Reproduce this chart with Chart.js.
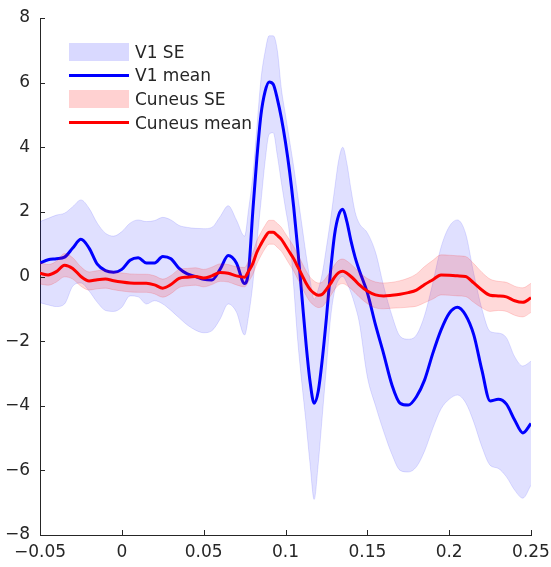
<!DOCTYPE html>
<html>
<head>
<meta charset="utf-8">
<title>V1 vs Cuneus</title>
<script src="https://cdn.jsdelivr.net/npm/chart.js@4.4.1/dist/chart.umd.min.js"></script>
<style>
  html, body { margin: 0; padding: 0; background: #fff; }
  #wrap { position: relative; width: 551px; height: 567px; }
  #legend {
    position: absolute; left: 69px; top: 40px;
    font-family: "DejaVu Sans", sans-serif; font-size: 17px; color: #262626;
  }
  .item { display: flex; align-items: center; height: 23.6px; }
  .key { width: 60px; margin-right: 6px; }
  .patch { height: 18px; }
  .line { height: 3px; }
</style>
</head>
<body>
<div id="wrap">
  <canvas id="chart" width="551" height="567"></canvas>
  <div id="legend"></div>
</div>
<script>
// time axis (s) - finer steps around the big response
const times = [
  -0.05, -0.045, -0.04, -0.035, -0.03, -0.025, -0.02, -0.015, -0.01, -0.005, 0, 0.005, 0.01, 0.015, 0.02, 0.025, 0.03, 0.035, 0.04, 0.045, 0.05, 0.055, 0.06, 0.065, 0.07, 0.075,
  0.0775, 0.08, 0.0825, 0.085, 0.0875, 0.09, 0.0925, 0.095, 0.0975, 0.1, 0.1025, 0.105, 0.1075, 0.11, 0.1125, 0.115, 0.1175, 0.12, 0.1225, 0.125, 0.1275, 0.13, 0.1325, 0.135, 0.1375, 0.14, 0.1425, 0.145,
  0.15, 0.155, 0.16, 0.165, 0.17, 0.175, 0.18, 0.185, 0.19, 0.195, 0.2, 0.205, 0.21, 0.215, 0.22, 0.225, 0.23, 0.235, 0.24, 0.245, 0.25
];

const v1Mean = [
  0.42, 0.52, 0.55, 0.6, 0.88, 1.15, 0.88, 0.38, 0.18, 0.13, 0.22, 0.5, 0.58, 0.42, 0.42, 0.62, 0.55, 0.25, 0.08, 0.0, -0.09, -0.11, 0.22, 0.65, 0.42, -0.22,
  0.2, 2.0, 3.66, 5.0, 5.72, 6.02, 5.95, 5.5, 4.9, 4.15, 3.25, 2.15, 0.85, -0.6, -2.05, -3.25, -3.92, -3.55, -2.55, -1.28, 0.15, 1.3, 1.9, 2.08, 1.7, 1.1, 0.6, 0.2,
  -0.5, -1.5, -2.4, -3.35, -3.92, -3.98, -3.72, -3.2, -2.38, -1.66, -1.14, -0.95, -1.19, -1.8, -2.9, -3.85, -3.8, -3.95, -4.44, -4.84, -4.55
];
const v1Upper = [
  1.7, 1.8, 1.9, 1.96, 2.16, 2.37, 2.11, 1.65, 1.34, 1.25, 1.39, 1.65, 1.75, 1.7, 1.73, 1.83, 1.75, 1.58, 1.52, 1.49, 1.48, 1.52, 1.85, 2.19, 1.75, 1.25,
  2.1, 3.1, 4.6, 6.1, 6.95, 7.45, 7.45, 7.0, 5.8, 5.0, 4.2, 3.4, 2.5, 1.6, 0.7, -0.1, -0.7, -0.4, 0.1, 0.9, 1.75, 2.7, 3.6, 4.0, 3.5, 2.7, 2.0, 1.65,
  1.35, 0.75, -0.3, -1.2, -1.85, -1.94, -1.81, -1.2, -0.2, 0.9, 1.54, 1.75, 1.34, 0.1, -1.0, -1.7, -1.75, -1.9, -2.48, -2.77, -2.62
];
const v1Lower = [
  -0.81, -0.88, -0.93, -0.85, -0.3, -0.2, -0.45, -0.8, -1.05, -1.08, -0.95, -0.6, -0.63, -0.85, -0.75, -0.85, -1.05, -1.28, -1.5, -1.66, -1.74, -1.68, -1.32, -0.85, -1.1, -1.81,
  -1.2, -0.25, 1.05, 2.3, 3.55, 4.4, 4.45, 3.75, 2.9, 2.1, 1.3, -0.3, -2.0, -3.3, -4.5, -5.8, -6.9, -5.8, -4.3, -2.8, -1.3, -0.45, -0.1, 0.0, -0.2, -0.5, -0.9, -1.4,
  -3.1, -4.0, -4.8, -5.5, -6.0, -6.05, -5.89, -5.4, -4.7, -4.1, -3.8, -3.67, -3.9, -4.5, -5.27, -5.84, -5.94, -6.2, -6.61, -6.86, -6.46
];

const cuneusMean = [
  0.10, 0.05, 0.15, 0.35, 0.25, 0.0, -0.14, -0.10, -0.08, -0.13, -0.17, -0.20, -0.21, -0.21, -0.26, -0.36, -0.25, -0.06, -0.02, 0.0, -0.05, 0.02, 0.12, 0.10, 0.02, -0.02,
  0.17, 0.40, 0.75, 1.00, 1.22, 1.37, 1.37, 1.27, 1.15, 0.95, 0.75, 0.55, 0.30, 0.05, -0.20, -0.40, -0.52, -0.58, -0.55, -0.40, -0.22, -0.02, 0.12, 0.16, 0.10, 0.0, -0.12, -0.25,
  -0.45, -0.57, -0.60, -0.58, -0.55, -0.50, -0.42, -0.25, -0.10, 0.05, 0.04, 0.02, 0.0, -0.20, -0.42, -0.58, -0.60, -0.63, -0.75, -0.80, -0.66
];
const cuneusUpper = [
  0.43, 0.37, 0.47, 0.71, 0.58, 0.30, 0.14, 0.18, 0.20, 0.15, 0.11, 0.08, 0.07, 0.07, 0.02, -0.08, 0.03, 0.22, 0.25, 0.27, 0.22, 0.29, 0.39, 0.37, 0.30, 0.28,
  0.49, 0.74, 1.11, 1.36, 1.58, 1.74, 1.74, 1.64, 1.52, 1.32, 1.13, 0.93, 0.68, 0.43, 0.18, -0.02, -0.14, -0.20, -0.17, -0.02, 0.16, 0.36, 0.50, 0.54, 0.48, 0.38, 0.26, 0.13,
  -0.06, -0.17, -0.20, -0.18, -0.13, -0.05, 0.08, 0.31, 0.50, 0.67, 0.66, 0.64, 0.62, 0.40, 0.13, -0.08, -0.15, -0.18, -0.30, -0.35, -0.21
];
const cuneusLower = [
  -0.23, -0.27, -0.17, -0.01, -0.08, -0.30, -0.42, -0.38, -0.36, -0.41, -0.45, -0.48, -0.49, -0.49, -0.54, -0.64, -0.53, -0.34, -0.29, -0.27, -0.32, -0.25, -0.15, -0.17, -0.26, -0.32,
  -0.15, 0.06, 0.39, 0.64, 0.86, 1.00, 1.00, 0.90, 0.78, 0.58, 0.37, 0.17, -0.08, -0.33, -0.58, -0.78, -0.90, -0.96, -0.93, -0.78, -0.60, -0.40, -0.26, -0.22, -0.28, -0.38, -0.50, -0.63,
  -0.84, -0.97, -1.00, -0.98, -0.97, -0.95, -0.92, -0.81, -0.70, -0.57, -0.58, -0.60, -0.62, -0.80, -0.97, -1.08, -1.05, -1.08, -1.20, -1.25, -1.11
];

const xTicks = [-0.05, 0, 0.05, 0.1, 0.15, 0.2, 0.25];
const yTicks = [-8, -6, -4, -2, 0, 2, 4, 6, 8];

const blue = '#0000ff';
const red = '#ff0000';
const blueBand = 'rgba(0, 0, 255, 0.12)';
const redBand = 'rgba(255, 0, 0, 0.15)';
const axisColor = '#262626';

function pts(values) {
    return times.map((t, i) => ({ x: t, y: values[i] }));
}

function fmt(v) {
    return String(Math.round(v * 100) / 100).replace('-', '\u2212');
}

// MATLAB style ticks pointing into the axes
const innerTicks = {
    id: 'innerTicks',
    afterDraw(chart) {
        const { ctx, chartArea, scales } = chart;
        ctx.save();
        ctx.strokeStyle = axisColor;
        ctx.lineWidth = 1;
        ctx.beginPath();
        scales.x.ticks.forEach(t => {
            const px = Math.round(scales.x.getPixelForValue(t.value)) + 0.5;
            ctx.moveTo(px, chartArea.bottom);
            ctx.lineTo(px, chartArea.bottom - 5);
        });
        scales.y.ticks.forEach(t => {
            const py = Math.round(scales.y.getPixelForValue(t.value)) + 0.5;
            ctx.moveTo(chartArea.left, py);
            ctx.lineTo(chartArea.left + 5, py);
        });
        ctx.stroke();
        ctx.restore();
    }
};

const band = (values, color, fill, order) => ({
    data: pts(values),
    borderColor: color,
    borderWidth: 1,
    backgroundColor: color,
    fill: fill,
    pointRadius: 0,
    order: order
});

new Chart(document.getElementById('chart'), {
    type: 'line',
    data: {
        datasets: [
            band(v1Lower, blueBand, false, 6),
            band(v1Upper, blueBand, '-1', 5),
            { data: pts(v1Mean), borderColor: blue, borderWidth: 3, pointRadius: 0, fill: false, order: 4 },
            band(cuneusLower, redBand, false, 3),
            band(cuneusUpper, redBand, '-1', 2),
            { data: pts(cuneusMean), borderColor: red, borderWidth: 3, pointRadius: 0, fill: false, order: 1 }
        ]
    },
    options: {
        responsive: false,
        devicePixelRatio: 1,
        animation: false,
        layout: { padding: { top: 18, right: 20, bottom: 0, left: 0 } },
        plugins: {
            legend: { display: false },
            tooltip: { enabled: false }
        },
        elements: { line: { cubicInterpolationMode: 'monotone' } },
        scales: {
            x: {
                type: 'linear',
                min: -0.05,
                max: 0.25,
                afterBuildTicks: s => { s.ticks = xTicks.map(v => ({ value: v })); },
                afterFit: s => { s.height = 32; s.paddingLeft = 0; s.paddingRight = 0; },
                grid: { display: false, drawTicks: false },
                border: { display: true, color: axisColor, width: 1 },
                ticks: {
                    autoSkip: false,
                    maxRotation: 0,
                    padding: 7,
                    color: axisColor,
                    font: { family: 'DejaVu Sans', size: 17 },
                    callback: v => fmt(v)
                }
            },
            y: {
                min: -8,
                max: 8,
                afterBuildTicks: s => { s.ticks = yTicks.map(v => ({ value: v })); },
                afterFit: s => { s.width = 40; s.paddingTop = 0; s.paddingBottom = 0; },
                grid: { display: false, drawTicks: false },
                border: { display: true, color: axisColor, width: 1 },
                ticks: {
                    padding: 10,
                    color: axisColor,
                    font: { family: 'DejaVu Sans', size: 17 },
                    callback: v => fmt(v)
                }
            }
        }
    },
    plugins: [innerTicks]
});

// legend drawn as html over the top-left of the plot
const legendItems = [
    { label: 'V1 SE', kind: 'patch', color: 'rgba(0, 0, 255, 0.15)' },
    { label: 'V1 mean', kind: 'line', color: blue },
    { label: 'Cuneus SE', kind: 'patch', color: 'rgba(255, 0, 0, 0.18)' },
    { label: 'Cuneus mean', kind: 'line', color: red }
];
const legendEl = document.getElementById('legend');
legendItems.forEach(it => {
    const row = document.createElement('div');
    row.className = 'item';
    const key = document.createElement('div');
    key.className = 'key ' + it.kind;
    key.style.background = it.color;
    const txt = document.createElement('span');
    txt.textContent = it.label;
    row.appendChild(key);
    row.appendChild(txt);
    legendEl.appendChild(row);
});
</script>
</body>
</html>
